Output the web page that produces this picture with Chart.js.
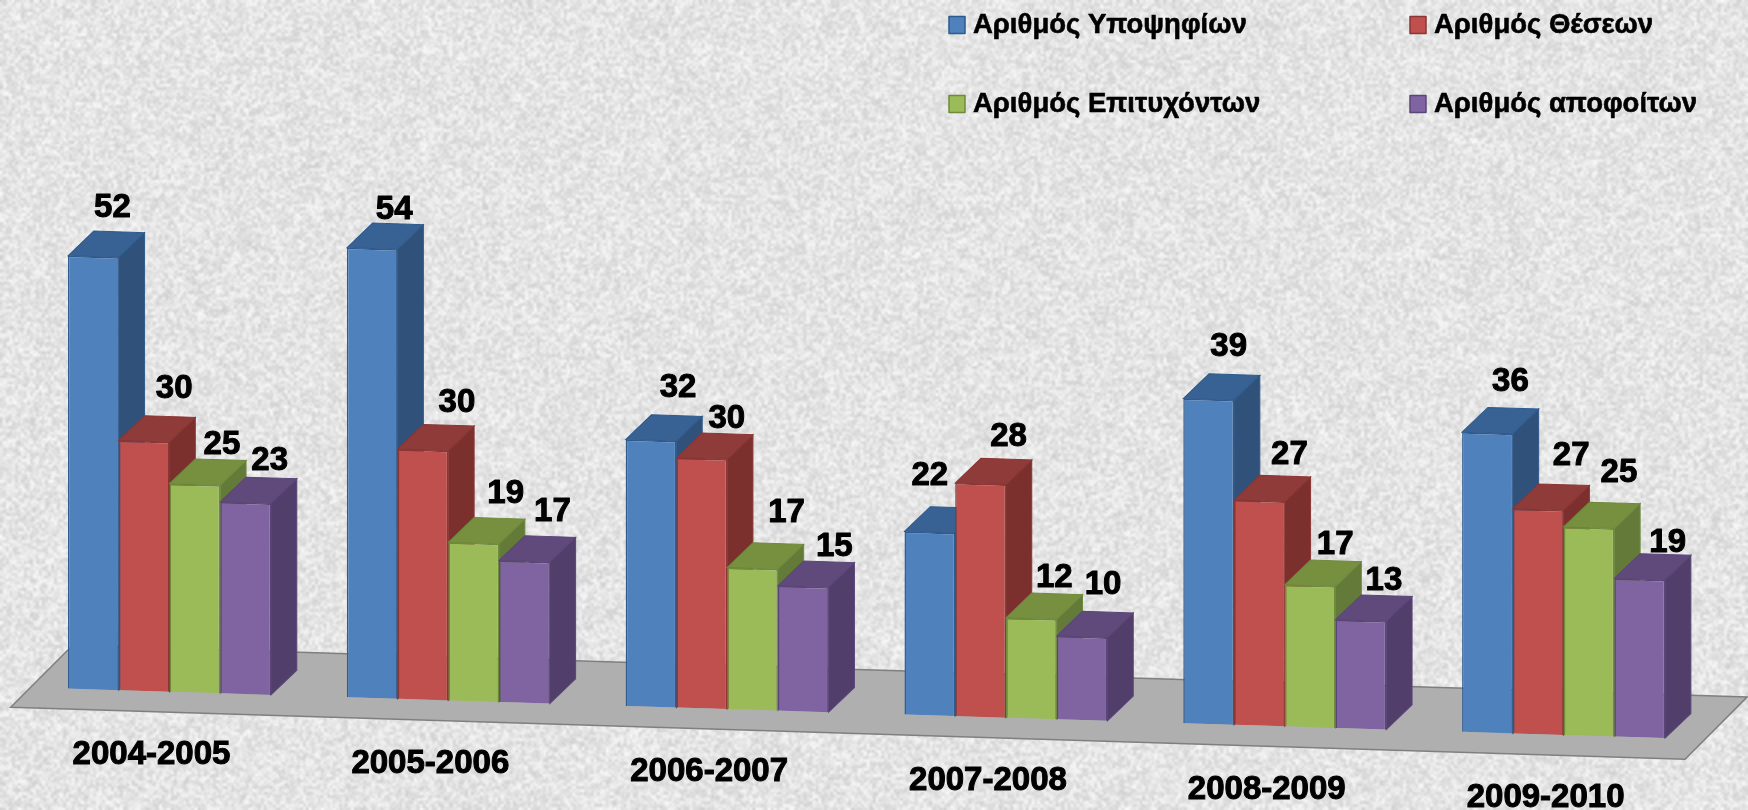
<!DOCTYPE html>
<html><head><meta charset="utf-8">
<style>html,body{margin:0;padding:0;background:#ececec}canvas{display:block}</style>
<script src="https://cdn.jsdelivr.net/npm/chart.js@4/dist/chart.umd.min.js"></script>
</head><body><canvas id="c" width="1748" height="810"></canvas>
<script>
const categories = ['2004-2005','2005-2006','2006-2007','2007-2008','2008-2009','2009-2010'];
const seriesNames = ['Αριθμός Υποψηφίων','Αριθμός Θέσεων','Αριθμός Επιτυχόντων','Αριθμός αποφοίτων'];
const candidates = [52,54,32,22,39,36];
const positions  = [30,30,30,28,27,27];
const successful = [25,19,17,12,17,25];
const graduates  = [23,17,15,10,13,19];

// styling tables (not data)
const frontColors  = ['#4F81BD','#C0504D','#9BBB59','#8064A2'];
const borderColors = ['#2F5A8C','#8A3634','#6F8A3C','#5A4578'];
const sideColors   = ['#30527A','#7C302E','#647A39','#523E6A'];
const topColors    = ['#386293','#8E3B39','#76903F','#604A7C'];
// label nudges from each bar's top centre, per series then category
const nudgeX = [[19,22,27,0,20,23],[30,34,25,28,30,33],[27,32,34,23,25,30],[24,28,31,21,23,28]];
const nudgeY = [[-49,-39,-52,-56,-52,-51],[-52,-47,-40,-47,-46,-54],[-40,-49,-55,-41,-41,-55],[-42,-49,-40,-52,-40,-36]];
const legendSlots = [[949,25.5],[1410,25.5],[949,104.5],[1410,104.5]];

const SHEAR = 0.031, DX = 25.8, DY = -25.5;
const FONT = 'bold 33px "Liberation Sans", Arial, sans-serif';

function seeded(s){return ()=>{s=(s*1664525+1013904223)>>>0;return s/4294967296;};}
function noiseLayer(w,h,rand,lo,hi){
  const c=document.createElement('canvas');c.width=w;c.height=h;
  const x=c.getContext('2d'),im=x.createImageData(w,h);
  for(let i=0;i<im.data.length;i+=4){const v=lo+(hi-lo)*rand();im.data[i]=im.data[i+1]=im.data[i+2]=v;im.data[i+3]=255;}
  x.putImageData(im,0,0);return c;
}
const texture = {
  beforeDraw(chart){
    const ctx=chart.ctx,W=chart.width,H=chart.height,r=seeded(12345);
    ctx.save();ctx.imageSmoothingEnabled=true;ctx.imageSmoothingQuality='high';
    ctx.fillStyle='#eeeeee';ctx.fillRect(0,0,W,H);
    ctx.globalAlpha=.7;ctx.drawImage(noiseLayer(Math.round(W/3),Math.round(H/3),r,190,255),0,0,W,H);
    ctx.globalAlpha=.25;ctx.drawImage(noiseLayer(W>>1,H>>1,r,205,255),0,0,W,H);
    ctx.globalAlpha=.08;ctx.drawImage(noiseLayer(W>>4,H>>4,r,205,255),0,0,W,H);
    ctx.restore();
  }
};
const bars3d = {
  beforeDatasetsDraw(chart){
    const ctx=chart.ctx,base=chart.scales.y.getPixelForValue(0);
    ctx.save();ctx.transform(1,SHEAR,0,1,0,0);
    // floor
    const fy=base+20.5,by=base-43.6,lx=10.7,rx=1685;
    ctx.beginPath();ctx.moveTo(lx,fy);ctx.lineTo(rx,fy);ctx.lineTo(rx+62,by);ctx.lineTo(lx+62,by);ctx.closePath();
    ctx.fillStyle='#AFAFAF';ctx.fill();ctx.lineWidth=1.5;ctx.strokeStyle='#7F7F7F';ctx.stroke();
    // bars left to right inside a group
    chart.data.datasets.forEach((ds,i)=>{
      const meta=chart.getDatasetMeta(i);
      meta.data.forEach(el=>{
        const l=el.x-el.width/2,r=el.x+el.width/2,t=el.y,b=el.base;
        ctx.lineWidth=1;ctx.strokeStyle=borderColors[i];
        ctx.fillStyle=sideColors[i];ctx.beginPath();
        ctx.moveTo(r,t);ctx.lineTo(r+DX,t+DY);ctx.lineTo(r+DX,b+DY);ctx.lineTo(r,b);ctx.closePath();ctx.fill();ctx.stroke();
        ctx.fillStyle=topColors[i];ctx.beginPath();
        ctx.moveTo(l,t);ctx.lineTo(l+DX,t+DY);ctx.lineTo(r+DX,t+DY);ctx.lineTo(r,t);ctx.closePath();ctx.fill();ctx.stroke();
      });
      meta.controller.draw();
    });
    ctx.restore();
    return false;
  },
  afterDraw(chart){
    const ctx=chart.ctx;ctx.save();
    ctx.fillStyle='#000';ctx.strokeStyle='#000';ctx.lineJoin='round';ctx.font=FONT;ctx.lineWidth=1;ctx.textAlign='center';ctx.textBaseline='middle';
    chart.data.datasets.forEach((ds,i)=>{
      chart.getDatasetMeta(i).data.forEach((el,j)=>{
        const t=String(ds.data[j]),x=el.x+nudgeX[i][j],y=el.y+SHEAR*el.x+nudgeY[i][j];
        ctx.strokeText(t,x,y);ctx.fillText(t,x,y);
      });
    });
    // legend
    ctx.textAlign='left';ctx.font='bold 27.5px "Liberation Sans", Arial, sans-serif';
    chart.data.datasets.forEach((ds,i)=>{
      const [x,y]=legendSlots[i];
      ctx.fillStyle=ds.backgroundColor;ctx.fillRect(x,y-9,16,17);
      ctx.strokeStyle=borderColors[i];ctx.lineWidth=1.5;ctx.strokeRect(x,y-9,16,17);
      ctx.fillStyle='#000';ctx.strokeStyle='#000';ctx.lineWidth=.6;
      ctx.strokeText(ds.label,x+24,y);ctx.fillText(ds.label,x+24,y);
    });
    ctx.restore();
  }
};
const seriesValues=[candidates,positions,successful,graduates];
const chart = new Chart(document.getElementById('c'),{
  type:'bar',
  data:{labels:categories,datasets:seriesValues.map((d,i)=>({
    label:seriesNames[i],data:d,backgroundColor:frontColors[i],borderColor:borderColors[i],borderWidth:1.5,
    categoryPercentage:.728,barPercentage:1
  }))},
  options:{
    responsive:false,animation:false,devicePixelRatio:1,
    layout:{padding:{left:30.1,right:45,top:20.6,bottom:0}},
    plugins:{legend:{display:false},tooltip:{enabled:false}},
    scales:{
      y:{display:false,min:0,max:80},
      x:{
        grid:{display:false},border:{display:false},
        afterFit(s){s.height=123.5;},
        ticks:{color:'#000',textStrokeColor:'#000',textStrokeWidth:1,font:{family:'"Liberation Sans", Arial, sans-serif',size:33,weight:'bold'},padding:36,labelOffset:-18,maxRotation:0,minRotation:0,autoSkip:false}
      }
    }
  },
  plugins:[texture,bars3d]
});
// tick labels follow the slanted floor
const xs=chart.scales.x,orig=xs._computeLabelItems;
xs._computeLabelItems=function(a){
  const items=orig.call(this,a);
  items.forEach(it=>{it.options.translation=[it.options.translation[0],it.options.translation[1]+SHEAR*it.options.translation[0]];});
  return items;
};
xs._labelItems=null;
chart.draw();
</script></body></html>
